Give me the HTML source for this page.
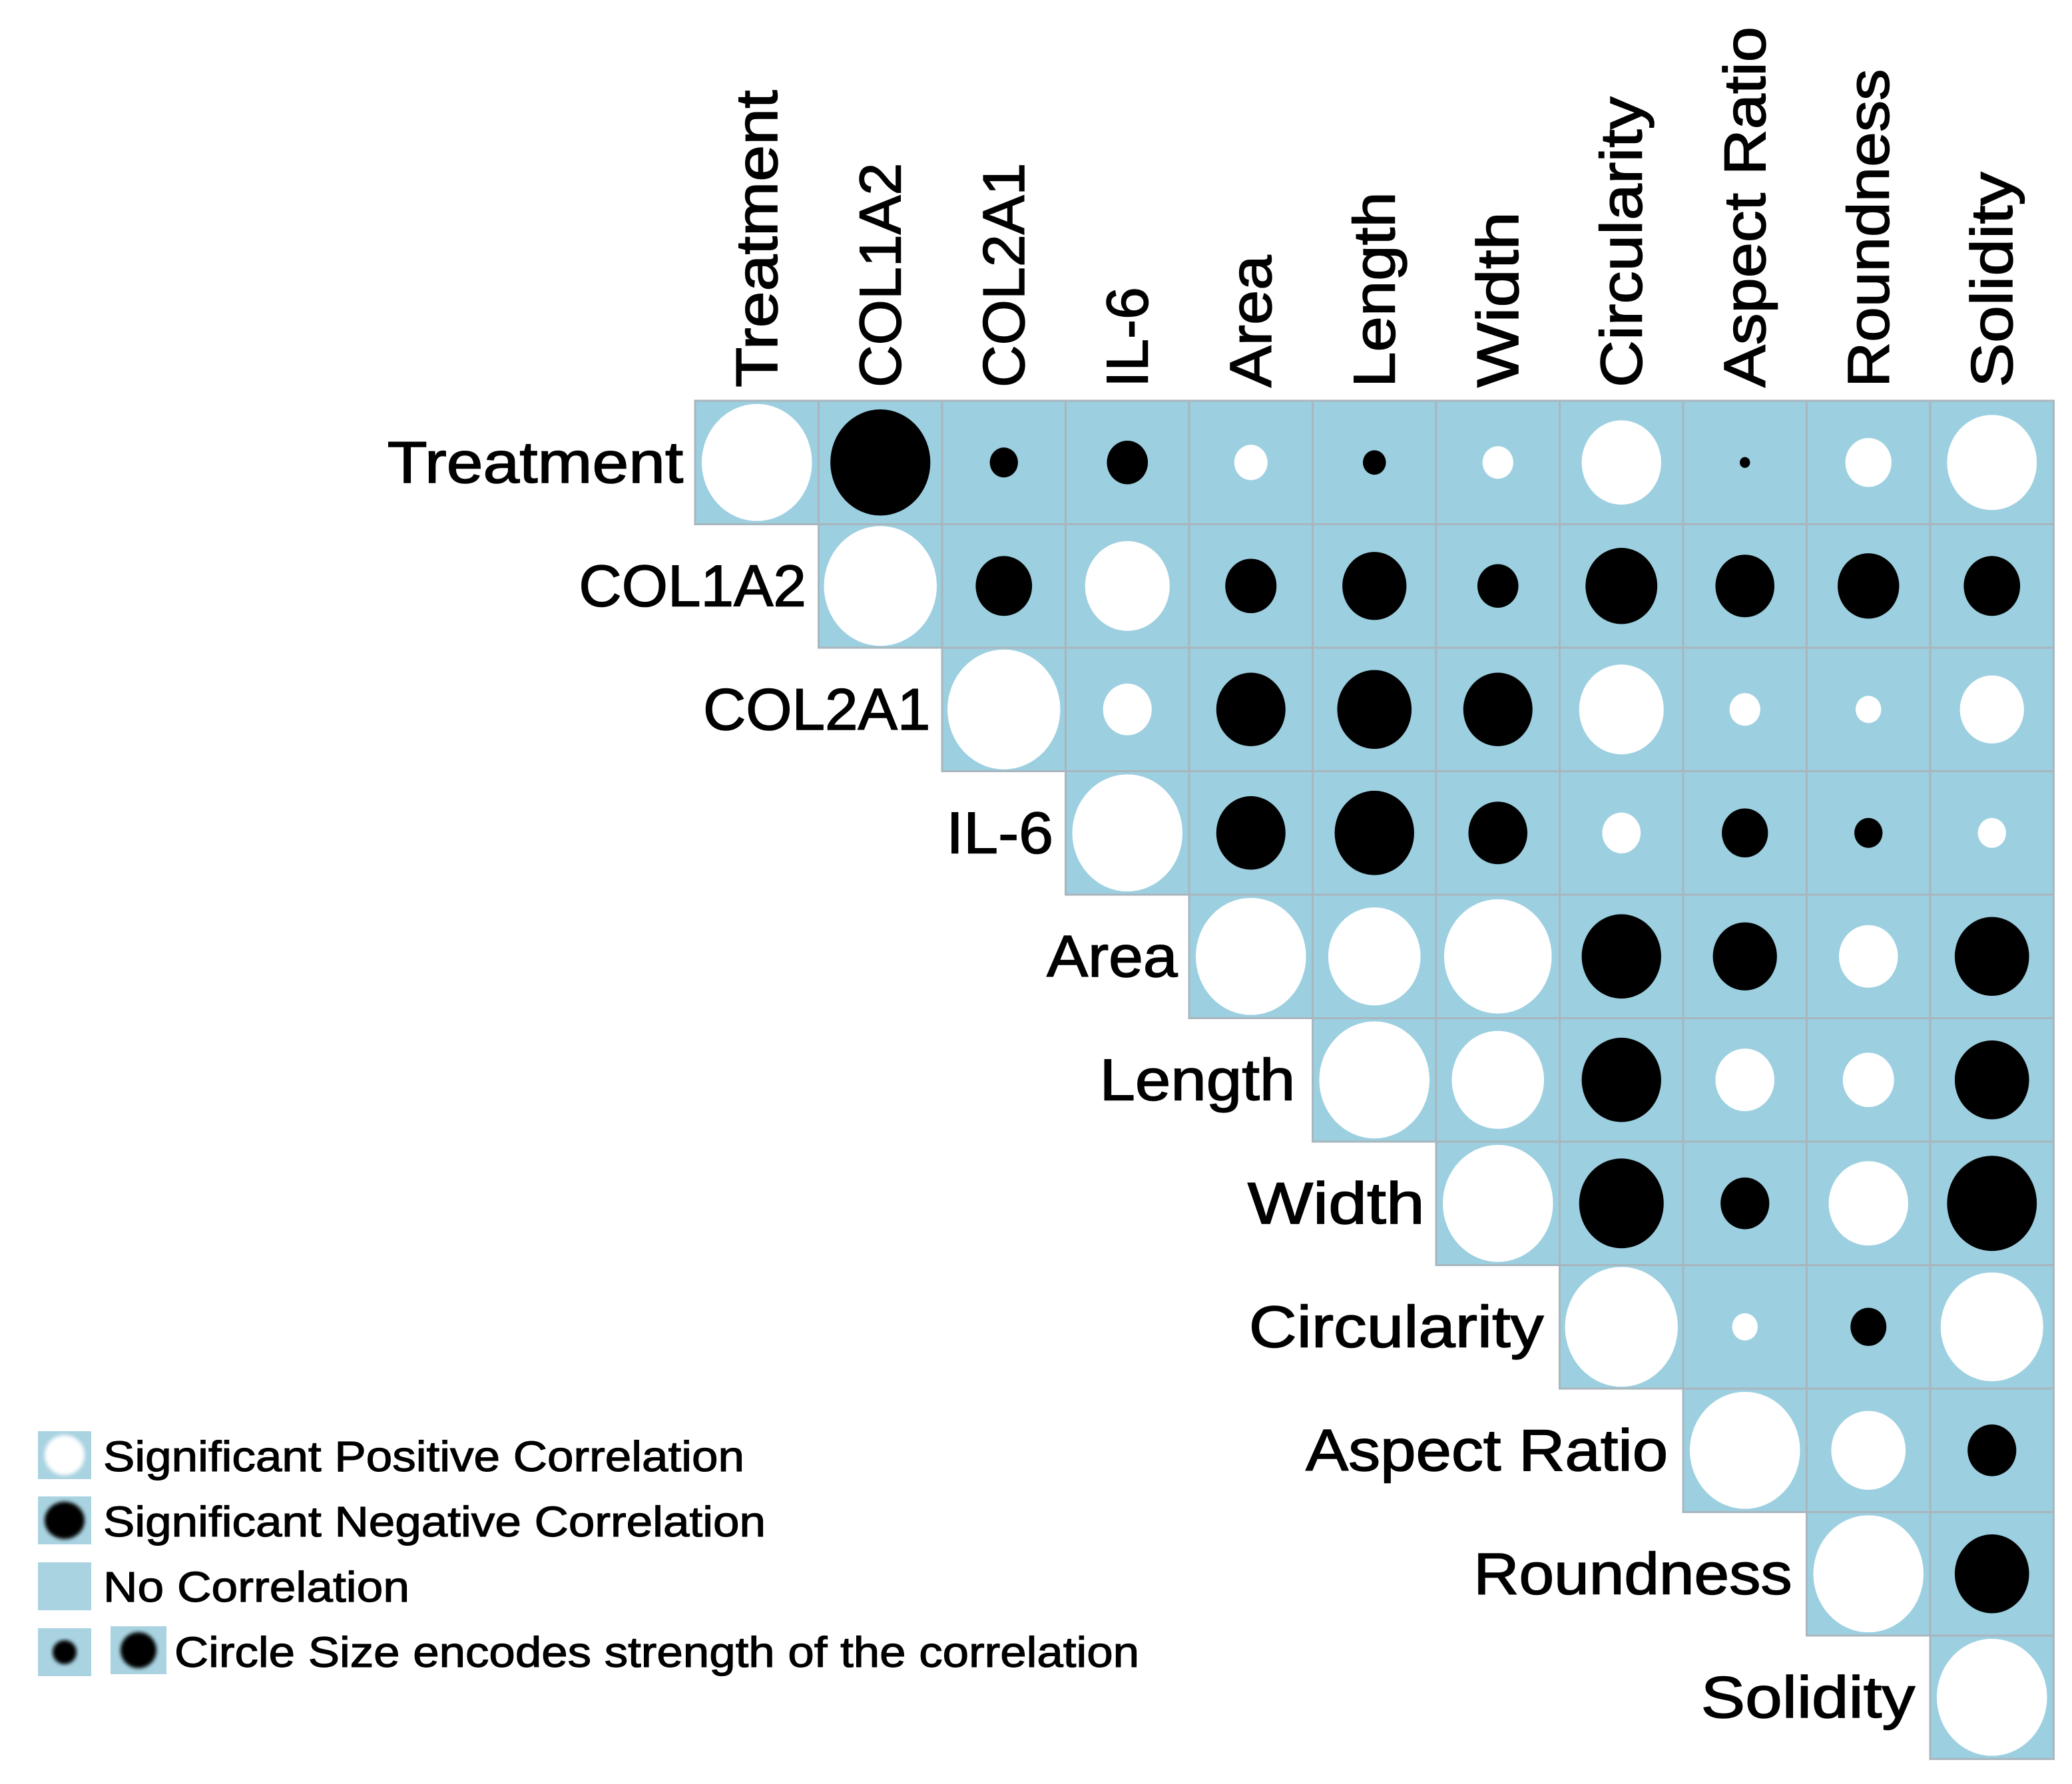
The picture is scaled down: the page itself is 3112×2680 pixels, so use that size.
<!DOCTYPE html>
<html><head><meta charset="utf-8"><style>html,body{margin:0;padding:0;background:#fff}svg{display:block}</style></head>
<body>
<svg width="3112" height="2680" viewBox="0 0 3112 2680" xmlns="http://www.w3.org/2000/svg" font-family="'Liberation Sans', sans-serif">
<defs><filter id="bl"><feGaussianBlur stdDeviation="3"/></filter></defs>
<g id="grid"></g>
<script>
<![CDATA[
(function(){
var NS="http://www.w3.org/2000/svg",g=document.getElementById("grid");
function el(t,a,txt){var e=document.createElementNS(NS,t);for(var k in a)e.setAttribute(k,a[k]);if(txt)e.textContent=txt;g.appendChild(e);return e;}
var X0=1044,Y0=602,C=185.5,S=1.985;
var D=[
[["W",86],["B",78],["B",22],["B",32],["W",26],["B",18],["W",24],["W",62],["B",8],["W",36],["W",70]],
[["W",88],["B",44],["W",66],["B",40],["B",50],["B",32],["B",56],["B",46],["B",48],["B",44]],
[["W",88],["W",38],["B",54],["B",58],["B",54],["W",66],["W",24],["W",20],["W",50]],
[["W",86],["B",54],["B",62],["B",46],["W",30],["B",36],["B",22],["W",22]],
[["W",86],["W",72],["W",84],["B",62],["B",50],["W",46],["B",58]],
[["W",86],["W",72],["B",62],["W",46],["W",40],["B",58]],
[["W",86],["B",66],["B",38],["W",62],["B",70]],
[["W",88],["W",20],["B",28],["W",80]],
[["W",86],["W",58],["B",38]],
[["W",86],["B",58]],
[["W",86]]];
for(var r=0;r<11;r++){for(var k=0;k<D[r].length;k++){var c=r+k;var x=X0+c*C,y=Y0+r*C;
el("rect",{x:x,y:y,width:C,height:C,fill:"#9ccfe0",stroke:"#a9b6bd","stroke-width":3});}}
for(var r=0;r<11;r++){for(var k=0;k<D[r].length;k++){var c=r+k;var d=D[r][k];
el("ellipse",{cx:X0+c*C+C/2,cy:Y0+r*C+C/2,rx:d[1]*S/2*0.97,ry:d[1]*S/2*1.03,fill:d[0]=="W"?"#fff":"#000"});}}
var names=["Treatment","COL1A2","COL2A1","IL-6","Area","Length","Width","Circularity","Aspect Ratio","Roundness","Solidity"];
var rl=[[293,517],[438,610],[532,704],[716,797],[792,891],[832,980],[944,1078],[945,1168],[988,1262],[1115,1356],[1287,1449]];
var ct=[68,123,123,217,193,145,160,73,20,52,130];
for(var i=0;i<11;i++){
var w=(rl[i][1]-rl[i][0])*S;
el("text",{x:rl[i][0]*S,y:Y0+i*C+C/2+30,"font-size":88,textLength:w,lengthAdjust:"spacingAndGlyphs",fill:"#000",stroke:"#000","stroke-width":1.5},names[i]);
var h=(293-ct[i])*S,cx=X0+i*C+C/2+30;
el("text",{x:0,y:0,transform:"translate("+cx+",582) rotate(-90)","font-size":88,textLength:h,lengthAdjust:"spacingAndGlyphs",fill:"#000",stroke:"#000","stroke-width":1.5},names[i]);
}
})();
]]>
</script>
<!-- legend -->
<rect x="57" y="2150" width="80" height="72" fill="#a9d3e1"/>
<ellipse cx="97" cy="2186" rx="30" ry="30" fill="#fff" filter="url(#bl)"/>
<rect x="57" y="2248" width="80" height="72" fill="#a9d3e1"/>
<ellipse cx="97" cy="2284" rx="30" ry="28" fill="#000" filter="url(#bl)"/>
<rect x="57" y="2347" width="80" height="72" fill="#a9d3e1"/>
<rect x="57" y="2446" width="80" height="72" fill="#a9d3e1"/>
<ellipse cx="97" cy="2482" rx="18" ry="18" fill="#000" filter="url(#bl)"/>
<rect x="166" y="2443" width="84" height="72" fill="#a9d3e1"/>
<ellipse cx="208" cy="2479" rx="27" ry="27" fill="#000" filter="url(#bl)"/>
<g font-size="64" fill="#000" stroke="#000" stroke-width="1.2">
<text x="155" y="2210" textLength="963" lengthAdjust="spacingAndGlyphs">Significant Positive Correlation</text>
<text x="155" y="2308" textLength="995" lengthAdjust="spacingAndGlyphs">Significant Negative Correlation</text>
<text x="155" y="2406" textLength="460" lengthAdjust="spacingAndGlyphs">No Correlation</text>
<text x="262" y="2504" textLength="1449" lengthAdjust="spacingAndGlyphs">Circle Size encodes strength of the correlation</text>
</g>
</svg>
</body></html>
